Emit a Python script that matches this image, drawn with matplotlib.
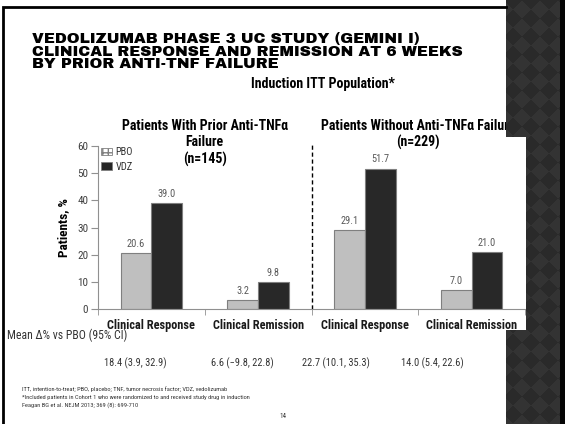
import numpy as np
import matplotlib
matplotlib.use("Agg")
import matplotlib.pyplot as plt
from matplotlib.patches import Patch
import matplotlib.transforms as mtransforms

# data
categories = ["Clinical Response", "Clinical Remission", "Clinical Response", "Clinical Remission"]
pbo = [20.6, 3.2, 29.1, 7.0]
vdz = [39.0, 9.8, 51.7, 21.0]
yticks = [0, 10, 20, 30, 40, 50, 60]
mean_diff = ["18.4 (3.9, 32.9)", "6.6 (\u22129.8, 22.8)", "22.7 (10.1, 35.3)", "14.0 (5.4, 22.6)"]
group_titles = [["Patients With Prior Anti-TNF\u03b1", "Failure", "(n=145)"],
                ["Patients Without Anti-TNF\u03b1 Failure", "(n=229)"]]
title_lines = ["VEDOLIZUMAB PHASE 3 UC STUDY (GEMINI I)",
               "CLINICAL RESPONSE AND REMISSION AT 6 WEEKS",
               "BY PRIOR ANTI-TNF FAILURE"]
footnotes = ["ITT, intention-to-treat; PBO, placebo; TNF, tumor necrosis factor; VDZ, vedolizumab",
             "*Included patients in Cohort 1 who were randomized to and received study drug in induction",
             "Feagan BG et al. NEJM 2013; 369 (8): 699-710"]

W, H = 565, 424
narrow = ["Roboto Condensed", "Archivo Narrow", "Liberation Sans", "DejaVu Sans"]
heavy = ["Archivo Black", "Liberation Sans", "DejaVu Sans"]
plt.rcParams["font.family"] = narrow

fig = plt.figure(figsize=(W / 100, H / 100), dpi=100)
fig.patch.set_facecolor("white")


def fx(px):
    return px / W


def fy(py):
    return 1 - py / H


# chart
ax = fig.add_axes([fx(98), fy(309), fx(525) - fx(98), fy(146) - fy(309)])
x = np.arange(len(categories))
w = 0.2875
ax.bar(x - w / 2, pbo, w, color="#bfbfbf", edgecolor="#7f7f7f", linewidth=0.8, zorder=2)
ax.bar(x + w / 2, vdz, w, color="#282828", edgecolor="#7f7f7f", linewidth=0.8, zorder=2)
for i in range(len(categories)):
    ax.text(x[i] - w / 2, pbo[i] + 1.6, f"{pbo[i]:.1f}", ha="center", va="bottom",
            fontsize=7.5, color="#595959")
    ax.text(x[i] + w / 2, vdz[i] + 1.6, f"{vdz[i]:.1f}", ha="center", va="bottom",
            fontsize=7.5, color="#595959")

ax.set_xlim(-0.5, 3.5)
ax.set_ylim(0, 60)
ax.set_yticks(yticks)
ax.tick_params(axis="y", labelsize=8, labelcolor="#404040", color="#909090", length=5, pad=2)
ax.set_xticks(x)
ax.set_xticklabels(categories, fontsize=8.8, fontweight="bold", color="#1a1a1a")
ax.tick_params(axis="x", length=0, pad=7)
ax.set_xticks(np.arange(-0.5, 4, 1), minor=True)
ax.tick_params(axis="x", which="minor", length=4, color="#909090")
for s in ["top", "right"]:
    ax.spines[s].set_visible(False)
for s in ["left", "bottom"]:
    ax.spines[s].set_color("#909090")
ax.set_ylabel("Patients, %", fontsize=9.5, fontweight="bold", labelpad=5)

ax.plot([1.5, 1.5], [0, 60.5], color="black", lw=1.0, dashes=(3, 2), clip_on=False)

handles = [Patch(facecolor="white", edgecolor="#808080", hatch="+++", lw=0.6),
           Patch(facecolor="#262626", edgecolor="#808080", lw=0.6)]
ax.legend(handles, ["PBO", "VDZ"], loc="upper left", bbox_to_anchor=(fx(98), fy(144)),
          bbox_transform=fig.transFigure, borderaxespad=0, borderpad=0.3,
          frameon=False, fontsize=7.5, handlelength=1.0, handleheight=0.8,
          handletextpad=0.4, labelspacing=0.45, labelcolor="#333333")

trans = mtransforms.blended_transform_factory(ax.transData, fig.transFigure)
for gx, lines, bases in zip([0.5, 2.5], group_titles, [[130, 146.5, 164], [130, 147]]):
    for t, b in zip(lines, bases):
        fig.text(gx, fy(b), t, transform=trans, ha="center", va="baseline",
                 fontsize=10, fontweight="bold")

# slide texts
for t, b in zip(title_lines, [43, 55.5, 68]):
    fig.text(fx(32), fy(b), t, ha="left", va="baseline", fontsize=11,
             family=heavy)
fig.text(fx(323), fy(84), "Induction ITT Population*", ha="center", va="center",
         fontsize=10, fontweight="bold")
fig.text(fx(7), fy(335), "Mean \u0394% vs PBO (95% CI)", ha="left", va="center",
         fontsize=8.5, color="#333333")
for px, t in zip([135, 242, 336, 432], mean_diff):
    fig.text(fx(px), fy(363), t, ha="center", va="center", fontsize=7.5, color="#333333")
for k, t in enumerate(footnotes):
    fig.text(fx(22), fy(389 + 8 * k), t, ha="left", va="center", fontsize=4.6,
             color="#333333")
fig.text(fx(283), fy(417), "14", ha="center", va="center", fontsize=5, color="#333333")

# slide decoration: border and dark right panel
deco = fig.add_axes([0, 0, 1, 1], zorder=10)
deco.axis("off")
deco.plot([3, 3, 506], [H, 7, 7], color="black", lw=2, solid_joinstyle="miter")

yy, xx = np.mgrid[0:H, 0:W]
d = 18.0
chk = (np.floor((xx + yy) / d) + np.floor((xx - yy) / d)) % 2
img = np.zeros((H, W, 4))
shade = np.where(chk == 0, 0.165, 0.2)
img[..., 0] = shade
img[..., 1] = shade
img[..., 2] = shade
mask = (xx >= 506) & ~((xx < 526) & (yy >= 137) & (yy < 330))
img[..., 3] = mask.astype(float)
edge = xx >= 560
img[edge, :3] = 0.02
deco.imshow(img, extent=(0, W, H, 0), interpolation="nearest", aspect="auto")
deco.set_xlim(0, W)
deco.set_ylim(H, 0)

fig.savefig("out.png", dpi=100)
